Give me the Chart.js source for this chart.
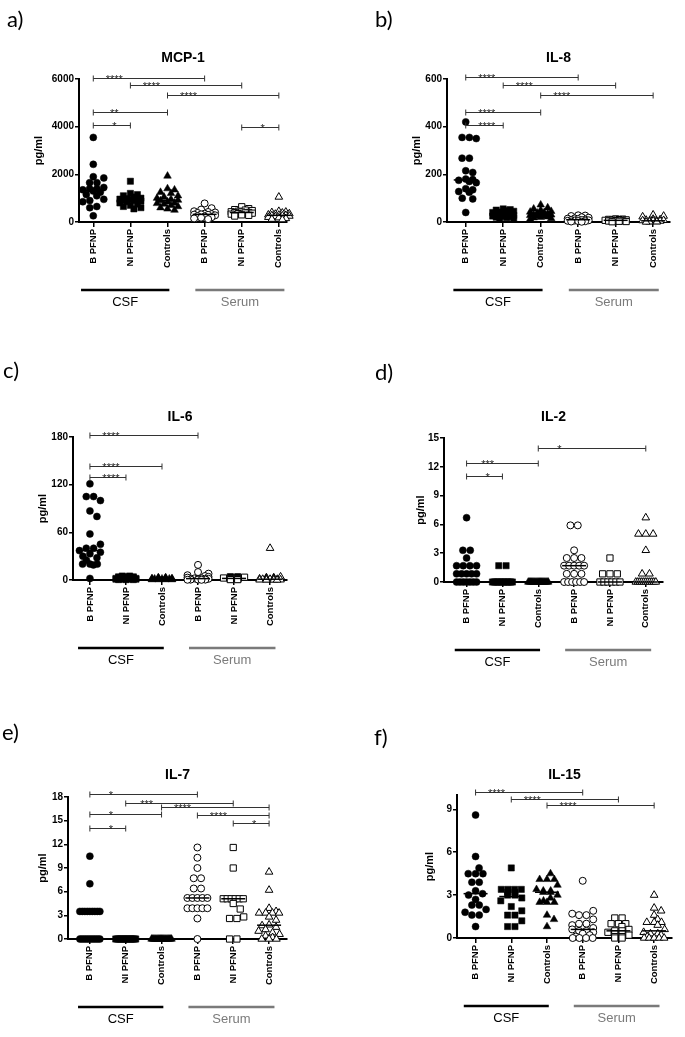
<!DOCTYPE html>
<html>
<head>
<meta charset="utf-8">
<script src="https://cdn.jsdelivr.net/npm/chart.js@4.4.1/dist/chart.umd.min.js"></script>
<style>
  body { margin: 0; background: #fff; width: 685px; height: 1037px; position: relative; overflow: hidden; }
  canvas { position: absolute; }
</style>
</head>
<body>
<script>
const categories = ['B PFNP', 'NI PFNP', 'Controls', 'B PFNP', 'NI PFNP', 'Controls'];
const groupNames = ['CSF', 'Serum'];

// a) MCP-1, pg/ml
const mcp1Values = [
  [3550, 2420, 1900, 1850, 1650, 1650, 1450, 1400, 1400, 1350, 1300, 1250, 1150, 1100, 950, 900, 850, 650, 600, 260],
  [1710, 1200, 1150, 1100, 1050, 1000, 980, 960, 950, 940, 920, 900, 880, 850, 800, 750, 700, 650, 600, 550],
  [1930, 1400, 1350, 1250, 1200, 1100, 1050, 1000, 950, 920, 900, 850, 800, 780, 750, 700, 650, 600, 550, 500],
  [780, 580, 520, 450, 420, 400, 380, 350, 330, 320, 310, 300, 280, 250, 230, 200, 180, 150, 120],
  [640, 560, 520, 500, 480, 450, 430, 420, 400, 390, 380, 370, 350, 330, 300, 280, 250],
  [1050, 450, 420, 400, 380, 350, 330, 300, 290, 280, 270, 260, 250, 230, 200, 180, 150, 120, 100]
];
const mcp1Ticks = [0, 2000, 4000, 6000];
const mcp1Sig = [[0, 3, 6050, '****'], [1, 4, 5750, '****'], [2, 5, 5330, '****'], [0, 2, 4630, '**'], [0, 1, 4070, '*'], [4, 5, 4000, '*']];

// b) IL-8
const il8Values = [
  [420, 355, 355, 350, 268, 268, 215, 208, 180, 178, 175, 170, 165, 140, 135, 128, 125, 100, 97, 40],
  [55, 52, 50, 48, 45, 42, 40, 38, 35, 33, 30, 28, 26, 25, 24, 22, 20, 18, 16, 15],
  [72, 60, 55, 50, 45, 42, 40, 38, 35, 33, 31, 30, 28, 26, 24, 22, 20, 18, 15, 12],
  [28, 27, 25, 20, 18, 15, 14, 12, 10, 9, 8, 7, 6, 5, 4, 3, 2, 1],
  [13, 12, 11, 10, 9, 8, 7, 6, 5, 4, 3, 2, 1],
  [30, 25, 22, 12, 10, 8, 7, 6, 5, 4, 3, 3, 2, 2, 1, 1, 0]
];
const il8Ticks = [0, 200, 400, 600];
const il8Sig = [[0, 3, 607, '****'], [1, 4, 575, '****'], [2, 5, 533, '****'], [0, 2, 463, '****'], [0, 1, 407, '****']];

// c) IL-6
const il6Values = [
  [121, 105, 105, 100, 87, 80, 58, 45, 40, 40, 37, 35, 33, 30, 28, 25, 20, 20, 20, 19, 2],
  [5, 5, 4, 4, 4, 3, 3, 3, 2, 2, 2, 2, 1, 1, 1, 1, 0.5, 0.5, 0.5],
  [3, 3, 2.5, 2.5, 2, 2, 2, 2, 1.5, 1.5, 1.5, 1, 1, 1, 1, 0.5, 0.5, 0.5, 0.5],
  [19, 10, 8, 6, 5, 4, 3, 2, 2, 1.5, 1, 1, 1, 0.5, 0.5, 0.5, 0.3, 0.2],
  [4, 4, 3.5, 3, 3, 2.5, 2, 2, 1.5, 1.5, 1, 1, 0.5, 0.5],
  [40, 4, 3, 3, 2, 2, 1.5, 1, 1, 1, 0.5, 0.5, 0.3, 0.2, 0.1, 0.1, 0]
];
const il6Ticks = [0, 60, 120, 180];
const il6Sig = [[0, 3, 183, '****'], [0, 2, 143, '****'], [0, 1, 130, '****']];

// d) IL-2
const il2Values = [
  [6.7, 3.3, 3.3, 2.5, 1.7, 1.7, 1.7, 1.7, 0.85, 0.85, 0.85, 0.85, 0.85, 0, 0, 0, 0, 0, 0, 0],
  [1.7, 1.7, 0, 0, 0, 0, 0, 0, 0, 0, 0, 0, 0, 0, 0, 0, 0],
  [0, 0, 0, 0, 0, 0, 0, 0, 0, 0, 0, 0, 0, 0, 0, 0, 0, 0, 0],
  [5.9, 5.9, 3.3, 2.5, 2.5, 2.5, 1.7, 1.7, 1.7, 1.7, 1.7, 0.85, 0.85, 0.85, 0, 0, 0, 0, 0, 0],
  [2.5, 0.85, 0.85, 0.85, 0, 0, 0, 0, 0, 0],
  [6.7, 5, 5, 5, 3.3, 0.85, 0.85, 0, 0, 0, 0, 0, 0, 0, 0, 0, 0, 0]
];
const il2Ticks = [0, 3, 6, 9, 12, 15];
const il2Sig = [[2, 5, 14, '*'], [0, 2, 12.4, '***'], [0, 1, 11, '*']];

// e) IL-7
const il7Values = [
  [10.5, 7, 3.5, 3.5, 3.5, 3.5, 3.5, 3.5, 3.5, 3.5, 3.5, 0, 0, 0, 0, 0, 0, 0, 0, 0, 0],
  [0, 0, 0, 0, 0, 0, 0, 0, 0, 0, 0, 0, 0, 0, 0, 0, 0, 0],
  [0, 0, 0, 0, 0, 0, 0, 0, 0, 0, 0, 0, 0, 0, 0, 0, 0, 0, 0],
  [11.6, 10.3, 9, 7.7, 7.7, 6.4, 6.4, 5.2, 5.2, 5.2, 5.2, 5.2, 3.9, 3.9, 3.9, 3.9, 3.9, 2.6, 0],
  [11.6, 9, 5.1, 5.1, 5.1, 5.1, 5.1, 5.1, 4.5, 3.8, 2.8, 2.6, 2.6, 0, 0],
  [8.5, 6.2, 3.9, 3.5, 3.3, 3.3, 3.3, 3.3, 2.8, 2.4, 1.8, 1.7, 1.5, 1.2, 1.0, 0.8, 0.6, 0.4, 0.2, 0, 0, 0]
];
const il7Ticks = [0, 3, 6, 9, 12, 15, 18];
const il7Sig = [[0, 3, 18.4, '*'], [1, 4, 17.2, '***'], [2, 5, 16.7, '****'], [0, 2, 15.8, '*'], [3, 5, 15.7, '****'], [4, 5, 14.7, '*'], [0, 1, 14.1, '*']];

// f) IL-15
const il15Values = [
  [8.6, 5.7, 4.9, 4.5, 4.5, 4.5, 3.9, 3.9, 3.3, 3.1, 3.0, 2.7, 2.3, 2.3, 2.0, 1.8, 1.6, 1.6, 0.8],
  [4.9, 3.4, 3.4, 3.4, 3.4, 3.2, 3.2, 3.0, 3.0, 2.8, 2.6, 2.2, 1.9, 1.6, 1.6, 1.2, 0.8, 0.8],
  [4.5, 4.1, 4.1, 4.1, 3.7, 3.4, 3.3, 3.3, 3.2, 3.2, 3.0, 2.8, 2.6, 2.5, 2.5, 2.5, 1.6, 1.3, 0.8],
  [4.0, 1.9, 1.7, 1.6, 1.6, 1.3, 1.0, 1.0, 0.9, 0.7, 0.6, 0.5, 0.5, 0.4, 0.3, 0.2, 0.1, 0, 0, 0, 0],
  [1.4, 1.4, 1.0, 1.0, 1.0, 0.8, 0.6, 0.5, 0.5, 0.4, 0.3, 0.3, 0.2, 0.1, 0.1, 0, 0],
  [3.0, 2.1, 1.9, 1.6, 1.3, 1.1, 1.1, 1.1, 0.9, 0.6, 0.4, 0.3, 0.3, 0.2, 0.1, 0, 0, 0, 0, 0]
];
const il15Ticks = [0, 3, 6, 9];
const il15Sig = [[0, 3, 10.2, '****'], [1, 4, 9.75, '****'], [2, 5, 9.28, '****']];

// page layout of the six panels (cell = x, y, w, h)
const panels = [
  { letter: 'a)', title: 'MCP-1', values: mcp1Values, ticks: mcp1Ticks, sig: mcp1Sig, ymax: 6000,
    cell: [0, 0, 340, 330], plot: { l: 79, r: 287, t: 79, b: 222 }, xr: [-0.385, 5.22], yTitleX: 39, letterAt: [7, 9], titleY: 58 },
  { letter: 'b)', title: 'IL-8', values: il8Values, ticks: il8Ticks, sig: il8Sig, ymax: 600,
    cell: [340, 0, 345, 330], plot: { l: 447, r: 670, t: 79, b: 222 }, xr: [-0.5, 5.45], yTitleX: 417, letterAt: [375, 9], titleY: 58 },
  { letter: 'c)', title: 'IL-6', values: il6Values, ticks: il6Ticks, sig: il6Sig, ymax: 180,
    cell: [0, 330, 340, 350], plot: { l: 73, r: 287, t: 437, b: 580 }, xr: [-0.47, 5.47], yTitleX: 43, letterAt: [3, 360], titleY: 417 },
  { letter: 'd)', title: 'IL-2', values: il2Values, ticks: il2Ticks, sig: il2Sig, ymax: 15,
    cell: [340, 330, 345, 350], plot: { l: 444, r: 663, t: 438, b: 582 }, xr: [-0.63, 5.48], yTitleX: 421, letterAt: [375, 362], titleY: 417 },
  { letter: 'e)', title: 'IL-7', values: il7Values, ticks: il7Ticks, sig: il7Sig, ymax: 18,
    cell: [0, 680, 340, 357], plot: { l: 68, r: 287, t: 797, b: 939 }, xr: [-0.61, 5.5], yTitleX: 43, letterAt: [2, 722], titleY: 775 },
  { letter: 'f)', title: 'IL-15', values: il15Values, ticks: il15Ticks, sig: il15Sig, ymax: 10,
    cell: [340, 680, 345, 357], plot: { l: 457, r: 672, t: 795, b: 938 }, xr: [-0.52, 5.5], yTitleX: 430, letterAt: [374, 727], titleY: 775 }
];

const FONT = "'Liberation Sans', Arial, sans-serif";
Chart.defaults.font.family = FONT;
Chart.defaults.color = '#000';

const shapes = ['circle', 'rect', 'triangle'];
const radii = [3.5, 4.4, 4.4];
const DIAM = 7;     // marker size used for spreading
const HALF = 11;    // max half width of a column
const MED = 12;     // half width of median line
const XH = 50;      // height of x axis box

function median(arr) {
  const s = [...arr].sort((a, b) => a - b);
  const n = s.length;
  return n % 2 ? s[(n - 1) / 2] : (s[n / 2 - 1] + s[n / 2]) / 2;
}

// lay out one column as a dot plot: equal values in centred rows, the rest swarmed
function spread(vals, pxX, pxY) {
  const off = new Array(vals.length).fill(null);
  const placed = [];
  const counts = {};
  vals.forEach(v => { counts[v] = (counts[v] || 0) + 1; });
  Object.keys(counts).forEach(key => {
    const n = counts[key];
    if (n < 2) return;
    const v = Number(key);
    const step = Math.min(DIAM * 1.05, 2 * (HALF - 1) / (n - 1));
    let k = 0;
    vals.forEach((w, i) => {
      if (w !== v) return;
      const dx = (k - (n - 1) / 2) * step;
      off[i] = dx; placed.push([dx, v * pxY]); k++;
    });
  });
  const cands = [0];
  for (let s = DIAM / 2; s <= HALF; s += DIAM / 2) cands.push(s, -s);
  const order = vals.map((v, i) => i).filter(i => off[i] === null).sort((a, b) => vals[b] - vals[a]);
  order.forEach(i => {
    const y = vals[i] * pxY;
    let best = 0, bestD = -1;
    for (const c of cands) {
      let d = Infinity;
      placed.forEach(([px, py]) => { d = Math.min(d, Math.hypot(px - c, py - y)); });
      if (d >= DIAM) { best = c; bestD = d; break; }
      if (d > bestD + 0.01) { best = c; bestD = d; }
    }
    off[i] = best; placed.push([best, y]);
  });
  return off.map(o => o / pxX);
}

const extras = {
  id: 'extras',
  afterDatasetsDraw(chart, args, opts) {
    const p = opts.panel;
    const ctx = chart.ctx, xs = chart.scales.x, ys = chart.scales.y;
    ctx.save();
    ctx.strokeStyle = '#000';
    ctx.lineWidth = 1.5;
    p.values.forEach((vals, g) => {
      const x = xs.getPixelForValue(g), y = ys.getPixelForValue(median(vals));
      ctx.beginPath(); ctx.moveTo(x - MED, y); ctx.lineTo(x + MED, y); ctx.stroke();
    });
    ctx.restore();
  },
  afterDraw(chart, args, opts) {
    const p = opts.panel;
    const ctx = chart.ctx, xs = chart.scales.x, ys = chart.scales.y, ca = chart.chartArea;
    const ox = p.cell[0], oy = p.cell[1];
    ctx.save();
    // panel letter
    ctx.fillStyle = '#000';
    ctx.font = "22px Lato, 'Open Sans', sans-serif";
    ctx.textAlign = 'left'; ctx.textBaseline = 'top';
    ctx.fillText(p.letter, p.letterAt[0] - ox, p.letterAt[1] - oy);
    // title
    ctx.font = 'bold 14px ' + FONT;
    ctx.textAlign = 'center'; ctx.textBaseline = 'middle';
    ctx.fillText(p.title, (ca.left + ca.right) / 2, p.titleY - oy);
    // significance brackets
    ctx.strokeStyle = '#333'; ctx.fillStyle = '#222'; ctx.lineWidth = 1;
    ctx.font = '11px ' + FONT;
    ctx.textAlign = 'center'; ctx.textBaseline = 'alphabetic';
    p.sig.forEach(([a, b, v, stars]) => {
      const x1 = xs.getPixelForValue(a), x2 = xs.getPixelForValue(b), y = Math.round(ys.getPixelForValue(v)) + 0.5;
      ctx.beginPath();
      ctx.moveTo(x1, y); ctx.lineTo(x2, y);
      ctx.moveTo(x1, y - 3); ctx.lineTo(x1, y + 3);
      ctx.moveTo(x2, y - 3); ctx.lineTo(x2, y + 3);
      ctx.stroke();
      ctx.fillText(stars, x1 + 21, y + 4);
    });
    // CSF / Serum bars
    const barY = ca.bottom + 68;
    [[-0.33, 2.05, '#000'], [2.75, 5.15, '#7a7a7a']].forEach(([a, b, col], k) => {
      const x1 = xs.getPixelForValue(a), x2 = xs.getPixelForValue(b);
      ctx.strokeStyle = col; ctx.fillStyle = col; ctx.lineWidth = 2.5;
      ctx.beginPath(); ctx.moveTo(x1, barY); ctx.lineTo(x2, barY); ctx.stroke();
      ctx.font = '13px ' + FONT;
      ctx.textAlign = 'center'; ctx.textBaseline = 'middle';
      ctx.fillText(groupNames[k], (x1 + x2) / 2, barY + 12);
    });
    ctx.restore();
  }
};

panels.forEach(p => {
  const [cx, cy, cw, ch] = p.cell;
  const canvas = document.createElement('canvas');
  canvas.width = cw; canvas.height = ch;
  canvas.style.left = cx + 'px'; canvas.style.top = cy + 'px';
  document.body.appendChild(canvas);

  const pxX = (p.plot.r - p.plot.l) / (p.xr[1] - p.xr[0]);
  const pxY = (p.plot.b - p.plot.t) / p.ymax;
  const yBoxLeft = p.yTitleX - 10.6;

  const datasets = p.values.map((vals, g) => {
    const off = spread(vals, pxX, pxY);
    const filled = g < 3;
    return {
      data: vals.map((v, i) => ({ x: g + off[i], y: v })),
      pointStyle: shapes[g % 3],
      pointRadius: radii[g % 3],
      backgroundColor: filled ? '#000' : '#fff',
      borderColor: '#000',
      borderWidth: filled ? 0.5 : 1,
      clip: false
    };
  });

  new Chart(canvas, {
    type: 'scatter',
    data: { datasets },
    options: {
      responsive: false,
      animation: false,
      devicePixelRatio: 1,
      layout: {
        padding: {
          left: yBoxLeft - cx,
          right: cx + cw - p.plot.r,
          top: p.plot.t - cy,
          bottom: cy + ch - p.plot.b - XH
        }
      },
      scales: {
        x: {
          type: 'linear',
          min: p.xr[0],
          max: p.xr[1],
          afterBuildTicks: s => { s.ticks = categories.map((c, i) => ({ value: i })); },
          afterFit: s => { s.height = XH; },
          grid: { drawOnChartArea: false, drawTicks: true, tickLength: 5, color: '#000', lineWidth: 1.5 },
          border: { display: true, color: '#000', width: 2 },
          ticks: {
            autoSkip: false, minRotation: 90, maxRotation: 90, padding: 2,
            font: { size: 9.5, weight: 'bold' },
            callback: v => categories[v]
          }
        },
        y: {
          min: 0,
          max: p.ymax,
          afterBuildTicks: s => { s.ticks = p.ticks.map(v => ({ value: v })); },
          afterFit: s => { s.width = p.plot.l - yBoxLeft; },
          grid: { drawOnChartArea: false, drawTicks: true, tickLength: 4, color: '#000', lineWidth: 1.5 },
          border: { display: true, color: '#000', width: 2 },
          ticks: { padding: 1, font: { size: 10, weight: 'bold' }, callback: v => String(v) },
          title: { display: true, text: 'pg/ml', font: { size: 11, weight: 'bold' }, padding: { top: 4, bottom: 4 } }
        }
      },
      plugins: {
        legend: { display: false },
        tooltip: { enabled: false },
        extras: { panel: p }
      }
    },
    plugins: [extras]
  });
});
</script>
</body>
</html>
